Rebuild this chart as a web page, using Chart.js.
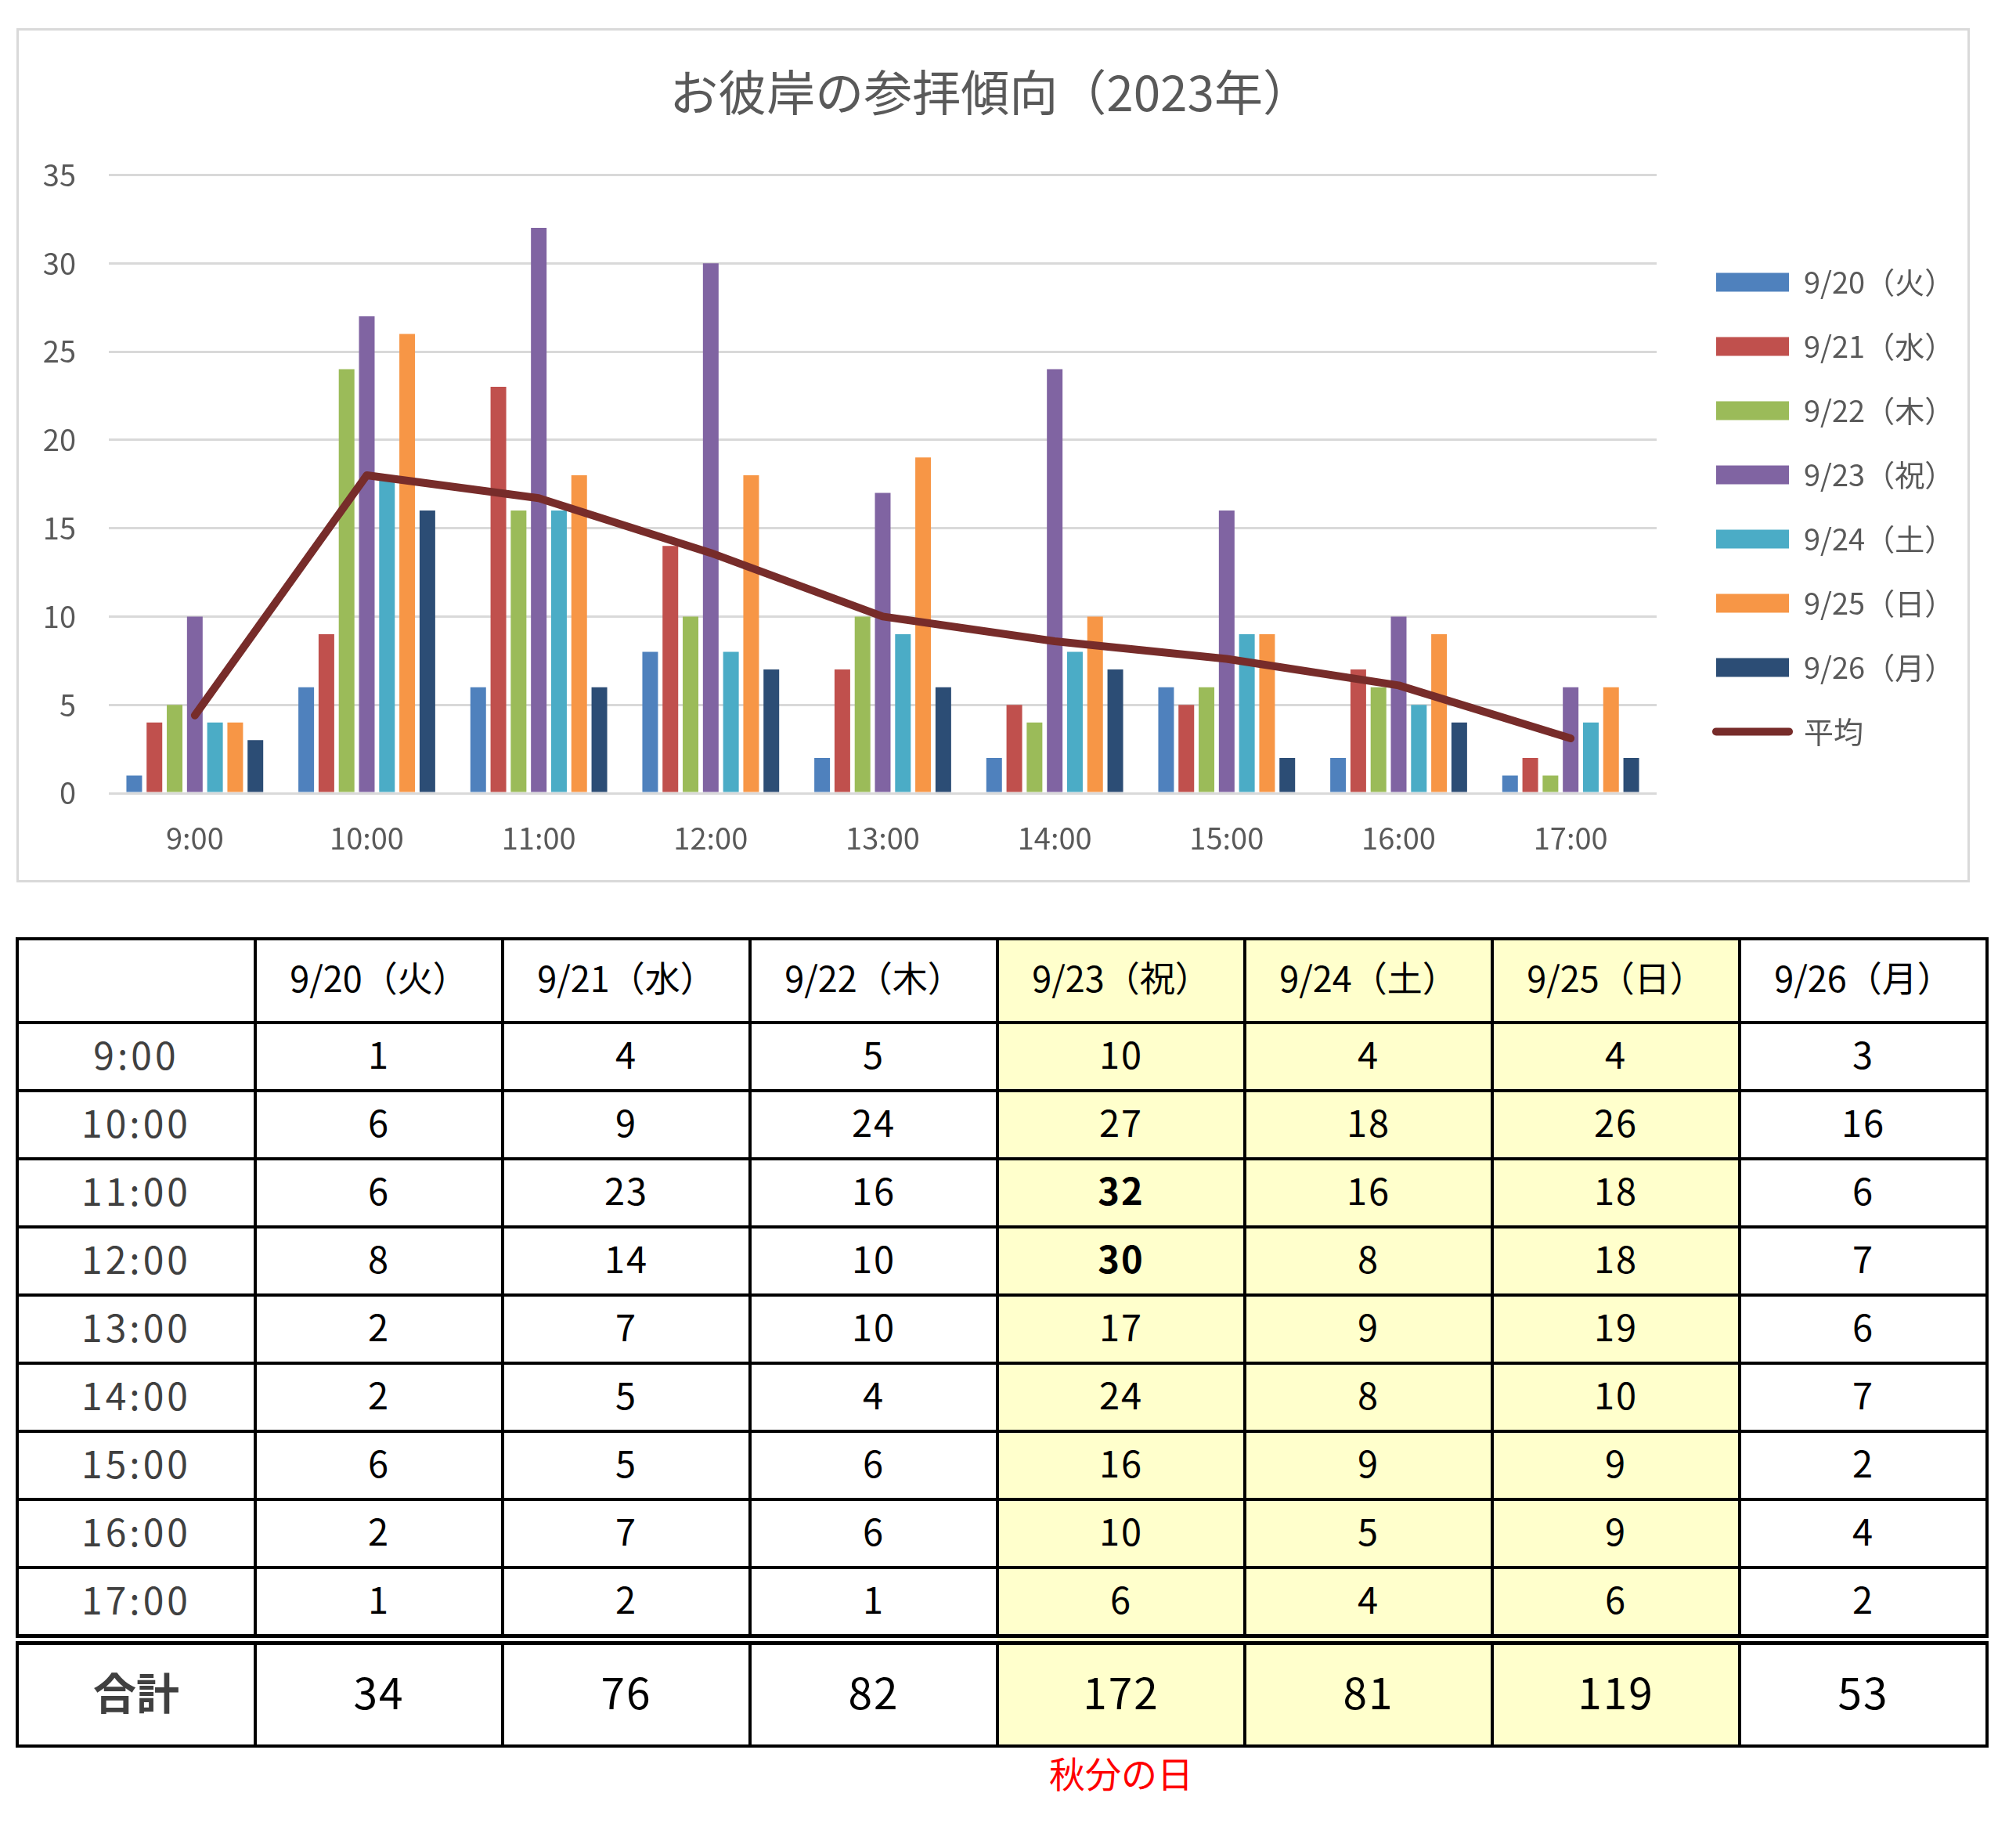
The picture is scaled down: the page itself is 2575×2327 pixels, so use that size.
<!DOCTYPE html>
<html lang="ja">
<head>
<meta charset="utf-8">
<title>お彼岸の参拝傾向（2023年）</title>
<script src="https://cdn.jsdelivr.net/npm/chart.js@4.4.0/dist/chart.umd.min.js"></script>
<style>
  body { margin: 0; background: #fff; width: 2575px; height: 2327px; position: relative; overflow: hidden;
         font-family: "Noto Sans CJK JP", "Noto Sans", sans-serif; }
  #chartBox { position: absolute; left: 21px; top: 36px; width: 2489px; height: 1085px; border: 3px solid #d9d9d9; }
  #tbl { position: absolute; left: 20px; top: 1197px; border-collapse: collapse; table-layout: fixed; width: 2516px; }
  #tbl td { border: 4px solid #000; text-align: center; vertical-align: middle; padding: 0;
            font-size: 47px; line-height: 1; color: #000; letter-spacing: 2px; }
  #tbl tr.head td { height: 93px; padding-bottom: 10px; font-size: 45px; letter-spacing: 0; }
  #tbl tr.row td { height: 73px; padding-bottom: 10px; }
  #tbl tr.total td { height: 117px; font-size: 55px; border-top: 14px double #000; padding-bottom: 10px; }
  #tbl td.time { color: #404040; font-size: 48px; letter-spacing: 4px; }
  #tbl td.sum { color: #404040; font-weight: bold; font-size: 48px; letter-spacing: 0; }
  #tbl td.hol { background: #ffffcc; }
  #tbl td.bold { font-weight: bold; }
  #note { position: absolute; left: 1274px; width: 316px; top: 2238px; text-align: center;
          color: #ff0000; font-size: 46px; line-height: 50px; }
</style>
</head>
<body>
<div id="chartBox"><canvas id="chart" width="2489" height="1085"></canvas></div>
<table id="tbl"></table>
<div id="note">秋分の日</div>
<script>
// 時間帯
const hours = ['9:00', '10:00', '11:00', '12:00', '13:00', '14:00', '15:00', '16:00', '17:00'];
// 日付
const days = ['9/20（火）', '9/21（水）', '9/22（木）', '9/23（祝）', '9/24（土）', '9/25（日）', '9/26（月）'];

// 参拝者数（時間帯ごと）
const v0920 = [1, 6, 6, 8, 2, 2, 6, 2, 1];
const v0921 = [4, 9, 23, 14, 7, 5, 5, 7, 2];
const v0922 = [5, 24, 16, 10, 10, 4, 6, 6, 1];
const v0923 = [10, 27, 32, 30, 17, 24, 16, 10, 6];
const v0924 = [4, 18, 16, 8, 9, 8, 9, 5, 4];
const v0925 = [4, 26, 18, 18, 19, 10, 9, 9, 6];
const v0926 = [3, 16, 6, 7, 6, 7, 2, 4, 2];
const visits = [v0920, v0921, v0922, v0923, v0924, v0925, v0926];

// 平均（グラフの折れ線）
const average = [4.4, 18, 16.7, 13.6, 10, 8.6, 7.6, 6.1, 3.1];
// 合計
const totals = [34, 76, 82, 172, 81, 119, 53];

const yTicks = [0, 5, 10, 15, 20, 25, 30, 35];

const colors = ['#4f81bd', '#c0504d', '#9bbb59', '#8064a2', '#4bacc6', '#f79646', '#2c4d75'];
const lineColor = '#772c2a';
const holidayCols = [3, 4, 5];
const boldCells = ['3-2', '3-3'];

const fontFamily = '"Noto Sans CJK JP", "Noto Sans", sans-serif';
Chart.defaults.font.family = fontFamily;
Chart.defaults.color = '#595959';

// legend sizes
const legendFont = 38;
const legendPad = 44;
const boxW = 93;
let mctx = document.createElement('canvas').getContext('2d');
mctx.font = legendFont + 'px ' + fontFamily;
let maxText = 0;
days.concat(['平均']).forEach(t => { maxText = Math.max(maxText, mctx.measureText(t).width); });
const legendWidth = legendPad + boxW + legendFont / 2 + maxText + 10;
const padRight = Math.max(0, 365 - legendWidth);

let datasets = days.map((d, i) => ({
    type: 'bar',
    label: d,
    data: visits[i],
    backgroundColor: colors[i],
    borderWidth: 0,
    categoryPercentage: 0.822,
    barPercentage: 0.775,
    order: 1,
    yAxisID: 'y'
}));
datasets.push({
    type: 'line',
    label: '平均',
    data: average,
    borderColor: lineColor,
    backgroundColor: lineColor,
    borderWidth: 10,
    pointRadius: 0,
    tension: 0,
    borderCapStyle: 'round',
    borderJoinStyle: 'round',
    order: 0,
    yAxisID: 'y'
});

const defaultLabels = Chart.defaults.plugins.legend.labels.generateLabels;

let ctx = document.getElementById('chart').getContext('2d');
new Chart(ctx, {
    data: { labels: hours, datasets: datasets },
    options: {
        responsive: false,
        animation: false,
        devicePixelRatio: 1,
        layout: { padding: { left: 0, right: padRight, top: 0, bottom: 0 } },
        scales: {
            x: {
                grid: { display: false },
                border: { display: false },
                ticks: { padding: 27, font: { size: 38 }, color: '#595959', maxRotation: 0, autoSkip: false },
                afterFit: s => { s.height = 111; }
            },
            y: {
                min: 0,
                max: 35,
                afterBuildTicks: s => { s.ticks = yTicks.map(v => ({ value: v })); },
                ticks: { padding: 42, font: { size: 38 }, color: '#595959' },
                grid: { color: '#d9d9d9', lineWidth: 3, drawTicks: false },
                border: { display: false },
                afterFit: s => { s.width = 115; }
            },
            yR: {
                position: 'right',
                grid: { display: false },
                border: { display: false },
                ticks: { display: false },
                afterFit: s => { s.width = 32; }
            }
        },
        plugins: {
            tooltip: { enabled: false },
            title: {
                display: true,
                text: 'お彼岸の参拝傾向（2023年）',
                font: { size: 62, weight: 'normal' },
                color: '#595959',
                padding: { top: 42, bottom: 68 }
            },
            legend: {
                position: 'right',
                align: 'start',
                title: { display: true, text: '', font: { size: 12 }, padding: { top: 244, bottom: 0 } },
                labels: {
                    usePointStyle: true,
                    pointStyleWidth: boxW,
                    boxHeight: 24,
                    padding: legendPad,
                    color: '#595959',
                    font: { size: legendFont },
                    sort: (a, b) => a.datasetIndex - b.datasetIndex,
                    generateLabels: function (chart) {
                        let items = defaultLabels(chart);
                        items.forEach(it => {
                            if (it.datasetIndex === days.length) {
                                it.pointStyle = 'line';
                                it.lineWidth = 10;
                                it.strokeStyle = lineColor;
                                it.lineCap = 'round';
                            } else {
                                it.pointStyle = 'rect';
                                it.lineWidth = 0;
                            }
                        });
                        return items;
                    }
                }
            }
        }
    }
});

// table below the chart
let html = '<colgroup><col style="width:304px">' + days.map(() => '<col style="width:316px">').join('') + '</colgroup>';
const hol = c => holidayCols.includes(c) ? 'hol' : '';
html += '<tr class="head"><td></td>' + days.map((d, c) => '<td class="' + hol(c) + '">' + d + '</td>').join('') + '</tr>';
hours.forEach((h, r) => {
    html += '<tr class="row"><td class="time">' + h + '</td>';
    visits.forEach((col, c) => {
        let cls = hol(c) + (boldCells.includes(c + '-' + r) ? ' bold' : '');
        html += '<td class="' + cls + '">' + col[r] + '</td>';
    });
    html += '</tr>';
});
html += '<tr class="total"><td class="sum">合計</td>' + totals.map((t, c) => '<td class="' + hol(c) + '">' + t + '</td>').join('') + '</tr>';
document.getElementById('tbl').innerHTML = html;
</script>
</body>
</html>
